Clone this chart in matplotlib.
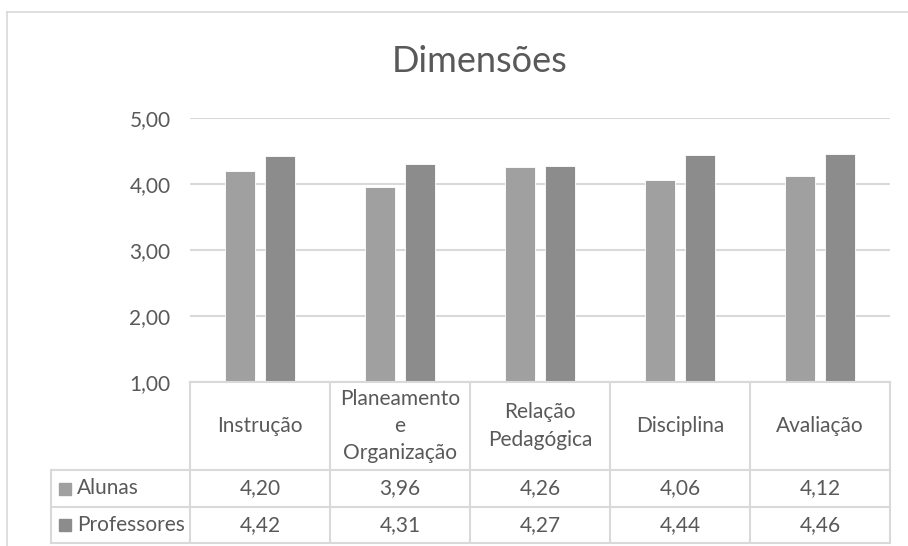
import numpy as np
import matplotlib
matplotlib.use('Agg')
import matplotlib.pyplot as plt
from matplotlib.lines import Line2D
from matplotlib.patches import Rectangle

# data
categories = ['Instrução', 'Planeamento\ne\nOrganização', 'Relação\nPedagógica',
              'Disciplina', 'Avaliação']
series_names = ['Alunas', 'Professores']
alunas = [4.20, 3.96, 4.26, 4.06, 4.12]
professores = [4.42, 4.31, 4.27, 4.44, 4.46]
yticks = [1.0, 2.0, 3.0, 4.0, 5.0]

colors = ['#a0a0a0', '#8c8c8c']
grid_col = '#d9d9d9'
txt_col = '#595959'

plt.rcParams['font.family'] = ['Lato', 'DejaVu Sans']

W, H = 908, 546
fig = plt.figure(figsize=(W / 100, H / 100), dpi=100)


def fx(x):
    return x / W


def fy(y):
    return 1 - y / H


# plot area in pixels
x0, x1 = 190, 890
ytop, ybot = 118, 382
ax = fig.add_axes([fx(x0), fy(ybot), fx(x1) - fx(x0), fy(ytop) - fy(ybot)])
ax.set_xlim(-0.5, len(categories) - 0.5)
ax.set_ylim(1, 5)

n = np.arange(len(categories))
w = 0.22
ax.bar(n - 0.143, alunas, w, color=colors[0], edgecolor='white', linewidth=0.6, zorder=3)
ax.bar(n + 0.143, professores, w, color=colors[1], edgecolor='white', linewidth=0.6, zorder=3)

ax.set_yticks(yticks)
ax.set_yticklabels([f'{v:.2f}'.replace('.', ',') for v in yticks], color=txt_col, fontsize=15)
ax.tick_params(axis='y', length=0, pad=14)
ax.set_xticks([])
ax.grid(axis='y', color=grid_col, linewidth=1.5, zorder=0)
for s in ax.spines.values():
    s.set_visible(False)

fig.text(fx(480), fy(62), 'Dimensões', ha='center', va='center', fontsize=26, color=txt_col)

# outer chart border
fig.add_artist(Line2D([fx(7), fx(7)], [fy(12), 0], color=grid_col, lw=1.2))
fig.add_artist(Line2D([fx(7), 1], [fy(12), fy(12)], color=grid_col, lw=1.2))

# data table
col_w = (x1 - x0) / len(categories)
cols = [x0 + i * col_w for i in range(len(categories) + 1)]
row_y = [382, 470, 507, 543]
leg_x = 51
fs = 15


def hline(xa, xb, y):
    fig.add_artist(Line2D([fx(xa), fx(xb)], [fy(y), fy(y)], color=grid_col, lw=1.5))


def vline(x, ya, yb):
    fig.add_artist(Line2D([fx(x), fx(x)], [fy(ya), fy(yb)], color=grid_col, lw=1.5))


hline(x0, x1, row_y[0])
for y in row_y[1:]:
    hline(leg_x, x1, y)
for x in cols:
    vline(x, row_y[0], row_y[3])
vline(leg_x, row_y[1], row_y[3])

for i, c in enumerate(categories):
    cx = (cols[i] + cols[i + 1]) / 2
    fig.text(fx(cx), fy((row_y[0] + row_y[1]) / 2), c, ha='center', va='center',
             fontsize=fs, color=txt_col, linespacing=1.45)
    for r, vals in enumerate([alunas, professores]):
        fig.text(fx(cx), fy((row_y[r + 1] + row_y[r + 2]) / 2),
                 f'{vals[i]:.2f}'.replace('.', ','), ha='center', va='center',
                 fontsize=fs, color=txt_col)

for r, name in enumerate(series_names):
    cy = (row_y[r + 1] + row_y[r + 2]) / 2
    fig.add_artist(Rectangle((fx(59), fy(cy + 6)), fx(12), 12 / H, color=colors[r]))
    fig.text(fx(77), fy(cy), name, ha='left', va='center', fontsize=fs, color=txt_col)

fig.savefig('out.png', dpi=100)
